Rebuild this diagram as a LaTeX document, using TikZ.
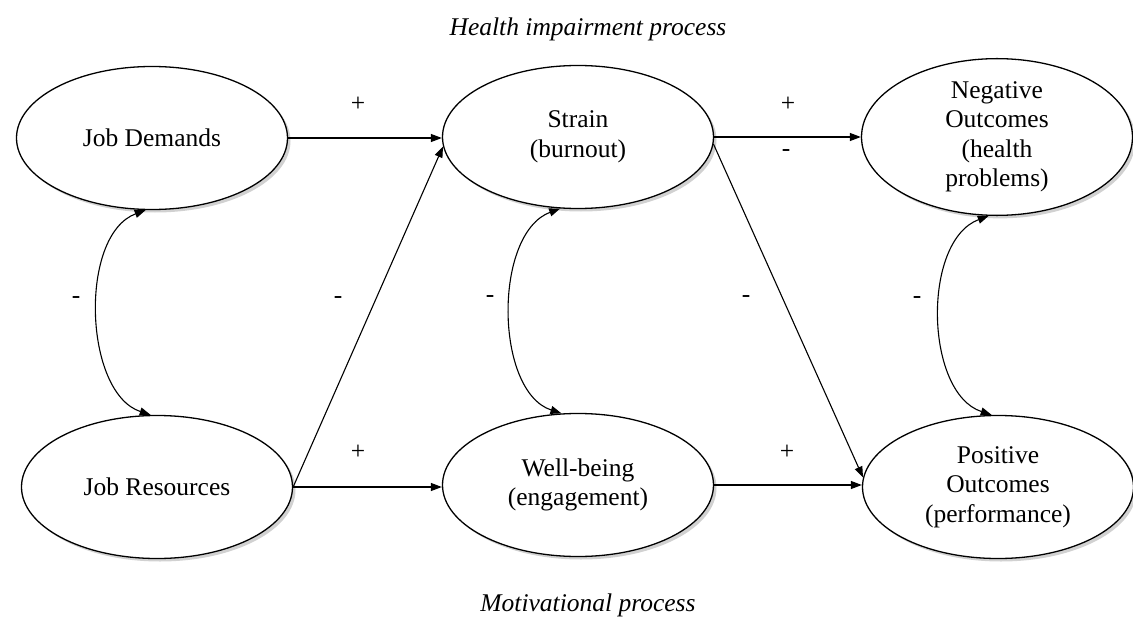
\documentclass[tikz,border=0pt]{standalone}
\usepackage{fontspec}
\setmainfont{Liberation Serif}
\usetikzlibrary{shapes.geometric,arrows.meta,shadows}
\begin{document}
\begin{tikzpicture}[x=1pt,y=-1pt,
  every node/.style={font=\fontsize{25.5}{29.5}\selectfont},
  construct/.style={ellipse, draw, line width=1.3pt, fill=white,
    minimum width=271pt, minimum height=143pt, inner sep=0pt, align=center,
    drop shadow={shadow xshift=3pt, shadow yshift=-3pt, fill=black, opacity=0.18}},
  tip/.tip={Triangle[length=11pt,width=8pt]},
  link/.style={line width=1.1pt, -tip},
  corr/.style={line width=1.1pt, tip-tip},
  sign/.style={inner sep=0pt},
  title/.style={font=\fontsize{25.5}{29.5}\selectfont\itshape}
]
\useasboundingbox (0,0) rectangle (1133,623);

% process titles
\node[title] (hip) at (588,29) {Health impairment process};
\node[title] (mot) at (588,605) {Motivational process};

% constructs
\node[construct] (jd)     at (152,138) {Job Demands};
\node[construct] (strain) at (578,137) {Strain\\(burnout)};
\node[construct] (neg)    at (997,137) {Negative\\Outcomes\\(health\\problems)};
\node[construct] (jr)     at (157,487) {Job Resources};
\node[construct] (wb)     at (578,485) {Well-being\\(engagement)};
\node[construct] (pos)    at (998,487) {Positive\\Outcomes\\(performance)};

% directed paths
\draw[link] (jd.east) -- (jd.east -| strain.west);
\draw[link] (jr.east) -- (strain.184);
\draw[link] (jr.east) -- (jr.east -| wb.west);
\draw[link] (strain.east) -- (strain.east -| neg.west);
\draw[link] (strain.357) -- (pos.176);
\draw[link] (wb.east) -- (wb.east -| pos.west);

% correlations
\draw[corr] (jd.265) .. controls +(-67,25) and +(-67,-22) .. (jr.95);
\draw[corr] (strain.256) .. controls +(-67,25) and +(-67,-22) .. (wb.103);
\draw[corr] (neg.264) .. controls +(-67,25) and +(-67,-22) .. (pos.95);

% signs
\node[sign] (p1) at (358,104) {+};
\node[sign] (p2) at (788,104) {+};
\node[sign] (m1) at (786,153) {-};
\node[sign] (m2) at (76,300) {-};
\node[sign] (m3) at (338,300) {-};
\node[sign] (m4) at (490,299) {-};
\node[sign] (m5) at (746,299) {-};
\node[sign] (m6) at (917,300) {-};
\node[sign] (p3) at (358,452) {+};
\node[sign] (p4) at (787,452) {+};
\end{tikzpicture}
\end{document}
